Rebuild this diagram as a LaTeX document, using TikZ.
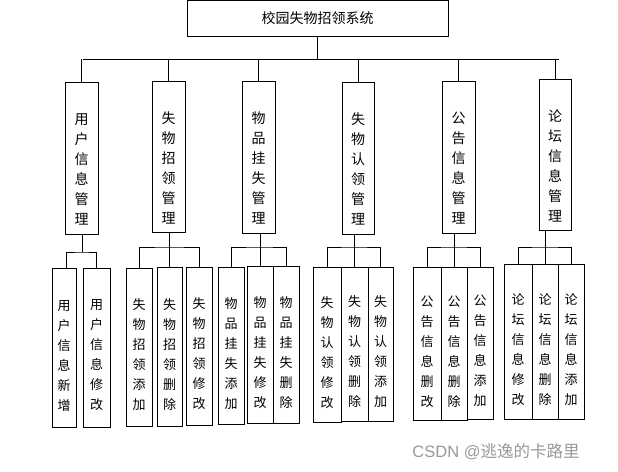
\documentclass[tikz,border=0pt]{standalone}
\usepackage{fontspec}
\setmainfont{Noto Sans CJK SC}
\newfontfamily\wm{Liberation Sans}
\begin{document}
\begin{tikzpicture}[x=1pt,y=-1pt,line width=0.9pt,
  box/.style={draw,minimum width=#1,inner sep=0pt},
  lvtwo/.style={align=center,font=\fontsize{14}{20}\selectfont,inner sep=0pt},
  lvthree/.style={align=center,font=\fontsize{13}{20}\selectfont,inner sep=0pt}]
\useasboundingbox[fill=white] (0,0) rectangle (618,471);
% top
\node[box=261pt,minimum height=36pt,font=\fontsize{14}{16}\selectfont] (top) at (317.5,18) {校园失物招领系统};
% level 2
\foreach \n/\cx/\cy/\w/\h/\t in {
  a1/81.7/158/33.5/152/{用\\户\\信\\息\\管\\理},
  a2/168.5/156.5/33/151/{失\\物\\招\\领\\管\\理},
  a3/258.5/157/33/152/{物\\品\\挂\\失\\管\\理},
  a4/358/158/32/152/{失\\物\\认\\领\\管\\理},
  a5/458.5/157/33/152/{公\\告\\信\\息\\管\\理},
  a6/555/154.5/32/151/{论\\坛\\信\\息\\管\\理}}{
  \node[box=\w pt,minimum height=\h pt] (\n) at (\cx,\cy) {};
  \node[lvtwo] (\n t) at ([yshift=-11pt]\n.center) {\t};
}
% level 3
\foreach \n/\xa/\xb/\ya/\yb/\t in {
  b11/52/76/268/427/{用\\户\\信\\息\\新\\增},
  b12/83/110/268/427/{用\\户\\信\\息\\修\\改},
  b21/126/152/268/426/{失\\物\\招\\领\\添\\加},
  b22/157/182/267/426/{失\\物\\招\\领\\删\\除},
  b23/186/212/267/425/{失\\物\\招\\领\\修\\改},
  b31/218/244/267/424/{物\\品\\挂\\失\\添\\加},
  b32/247/273/266/423/{物\\品\\挂\\失\\修\\改},
  b33/273/299/266/423/{物\\品\\挂\\失\\删\\除},
  b41/313/341/267/422/{失\\物\\认\\领\\修\\改},
  b42/341/368/267/421/{失\\物\\认\\领\\删\\除},
  b43/368/393/267/421/{失\\物\\认\\领\\添\\加},
  b51/413/441/267/420/{公\\告\\信\\息\\删\\改},
  b52/441/467/267/420/{公\\告\\信\\息\\删\\除},
  b53/467/493/267/419/{公\\告\\信\\息\\添\\加},
  b61/504/532/264/419/{论\\坛\\信\\息\\修\\改},
  b62/532/558/264/419/{论\\坛\\信\\息\\删\\除},
  b63/558/584/264/419/{论\\坛\\信\\息\\添\\加}}{
  \node[box=\xb pt-\xa pt,minimum height=\yb pt-\ya pt] (\n) at ({(\xa+\xb)/2},{(\ya+\yb)/2}) {};
  \node[lvthree] (\n t) at ([yshift=-8pt]\n.center) {\t};
}
% top bus
\coordinate (busL) at (83,59);
\coordinate (busR) at (559,59);
\draw (top.south) -- (top.south |- busL);
\draw (busL) -- (busR);
\foreach \n in {a1,a2,a3,a4,a5,a6}{ \draw (\n.north) -- (\n.north |- busL); }
% group 1
\coordinate (g1) at (82,252);
\draw (a1.south -| g1) -- (g1);
\draw (b11.north -| 66,0) |- (g1) -| (b12.north);
% groups of three
\foreach \g/\y in {2/247,3/247,4/247,5/247,6/247}{
  \coordinate (m\g) at (b\g2.north |- 0,\y);
  \draw (a\g.south -| m\g) -- (b\g2.north);
  \draw (b\g1.north) |- (m\g) -| (b\g3.north);
}
% watermark
\node[anchor=west,text=black!40,font=\fontsize{16.5}{18}\selectfont,inner sep=0pt] (wm) at (412,452) {{\wm CSDN @}逃逸的卡路里};
\end{tikzpicture}
\end{document}
